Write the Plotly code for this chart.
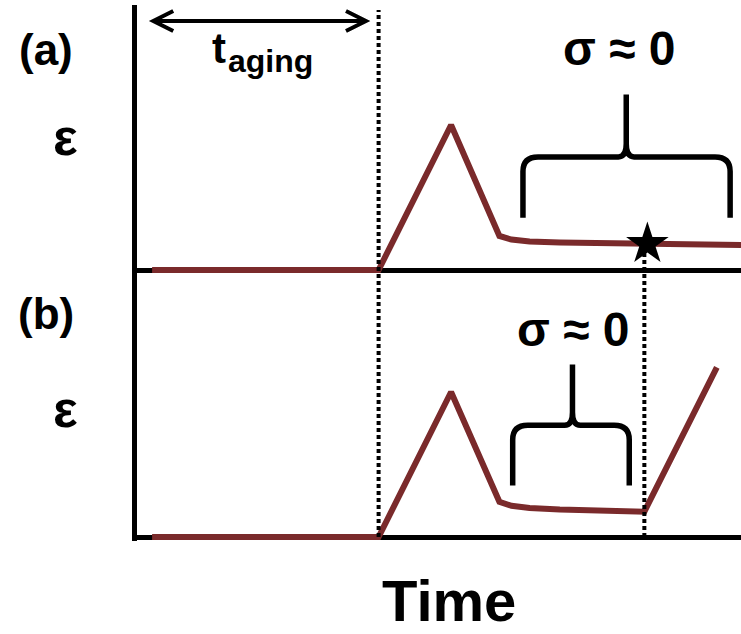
import plotly.graph_objects as go

# ---- data: strain vs. time for the two protocols ----
time_a = [0.25, 4.0, 5.2, 6.0, 6.2, 6.5, 7.0, 8.4, 10.0]
strain_a = [0.0, 0.0, 1.0, 0.235, 0.21, 0.197, 0.19, 0.18, 0.172]

time_b = [0.25, 4.0, 5.2, 6.0, 6.2, 6.5, 7.0, 8.4, 9.6]
strain_b = [0.0, 0.0, 1.0, 0.243, 0.215, 0.2, 0.19, 0.175, 1.17]

t_aging_end = 4.0
probe_time = [8.45]
probe_strain = [0.18]

panel_labels = ["(a)", "(b)"]
stress_label = "σ ≈ 0"

# ---- page geometry (pixels) ----
W, H = 741, 634
RED = "#7A2A2B"
FONT = "Liberation Sans, Arial, sans-serif"
Y_RANGE = [-0.03, 1.83]
K = 145.0  # pixels per strain unit


def px_x(p):
    return p / W


def px_y(p):
    return 1 - p / H


zero_a, zero_b = 270.0, 537.0
dom_a = [px_y(zero_a - Y_RANGE[0] * K), px_y(zero_a - Y_RANGE[1] * K)]
dom_b = [px_y(zero_b - Y_RANGE[0] * K), px_y(zero_b - Y_RANGE[1] * K)]


def paper_from(dom, v):
    return dom[0] + (v - Y_RANGE[0]) / (Y_RANGE[1] - Y_RANGE[0]) * (dom[1] - dom[0])


fig = go.Figure()

fig.add_trace(go.Scatter(x=time_a, y=strain_a, mode="lines", xaxis="x", yaxis="y",
                         line=dict(color=RED, width=6), hoverinfo="skip", showlegend=False))
fig.add_trace(go.Scatter(x=time_b, y=strain_b, mode="lines", xaxis="x2", yaxis="y2",
                         line=dict(color=RED, width=6), hoverinfo="skip", showlegend=False))
fig.add_trace(go.Scatter(x=probe_time, y=probe_strain, mode="markers", xaxis="x", yaxis="y",
                         marker=dict(symbol="star", size=32, color="black"),
                         cliponaxis=False, hoverinfo="skip", showlegend=False))

x_common = dict(range=[0, 10], domain=[137 / W, 1], showline=False, showgrid=False,
                zeroline=False, showticklabels=False, ticks="", fixedrange=True)
y_common = dict(range=Y_RANGE, showline=True, linewidth=5, linecolor="black",
                showgrid=False, zeroline=True, zerolinewidth=5, zerolinecolor="black",
                showticklabels=False, ticks="", layer="below traces", fixedrange=True)

fig.update_layout(
    width=W, height=H,
    margin=dict(l=0, r=0, t=0, b=0),
    paper_bgcolor="white", plot_bgcolor="rgba(0,0,0,0)",
    xaxis=dict(anchor="y", **x_common),
    xaxis2=dict(anchor="y2", matches="x", **x_common),
    yaxis=dict(anchor="x", domain=dom_a, **y_common),
    yaxis2=dict(anchor="x2", domain=dom_b, **y_common),
    font=dict(family=FONT, color="black"),
)


def brace(xl, xc, xr, yb, yh, yt, rx, ry, cx, cy):
    return (f"M {xl},{yb} L {xl},{yh - ry} Q {xl},{yh} {xl + rx},{yh} "
            f"L {xc - cx},{yh} Q {xc},{yh} {xc},{yh + cy} L {xc},{yt} "
            f"M {xc},{yh + cy} Q {xc},{yh} {xc + cx},{yh} "
            f"L {xr - rx},{yh} Q {xr},{yh} {xr},{yh - ry} L {xr},{yb}")


DOTTED = dict(color="black", width=4, dash="4px,3px")

shapes = []
# end of aging: dotted marker through both panels
shapes.append(dict(type="line", xref="x", yref="paper", x0=t_aging_end, x1=t_aging_end,
                   y0=paper_from(dom_b, 0), y1=px_y(10), line=DOTTED))
# probe time dotted marker
shapes.append(dict(type="line", xref="x", yref="paper", x0=8.4, x1=8.4,
                   y0=paper_from(dom_b, 0), y1=paper_from(dom_a, probe_strain[0]),
                   line=DOTTED))
# braces
shapes.append(dict(type="path", xref="x", yref="y",
                   path=brace(6.39, 8.10, 9.82, 0.36, 0.78, 1.21, 0.25, 0.10, 0.13, 0.09),
                   line=dict(color="black", width=5.5)))
shapes.append(dict(type="path", xref="x2", yref="y2",
                   path=brace(6.22, 7.21, 8.15, 0.356, 0.77, 1.19, 0.25, 0.10, 0.13, 0.09),
                   line=dict(color="black", width=5.5)))
# double-headed aging arrow
ax0, ax1, ay = 0.27, 3.79, 1.717
hx, hy = 0.33, 0.069
shapes.append(dict(type="path", xref="x", yref="y",
                   path=(f"M {ax0},{ay} L {ax1},{ay} "
                         f"M {ax0 + hx},{ay + hy} L {ax0},{ay} L {ax0 + hx},{ay - hy} "
                         f"M {ax1 - hx},{ay + hy} L {ax1},{ay} L {ax1 - hx},{ay - hy}"),
                   line=dict(color="black", width=4)))
fig.update_layout(shapes=shapes)


def label(text, x, y, size, xanchor="center"):
    return dict(text=text, x=px_x(x), y=px_y(y), xref="paper", yref="paper",
                xanchor=xanchor, yanchor="middle", showarrow=False,
                font=dict(family=FONT, size=size, color="black", weight="bold"))


annotations = [
    label(panel_labels[0], 46, 50, 44),
    label(panel_labels[1], 46, 313.5, 44),
    label("ε", 65.5, 137, 52),
    label("ε", 65.5, 409, 52),
    label("t", 218.5, 48.4, 42),
    label("aging", 226, 60.9, 32, xanchor="left"),
    label(stress_label, 619, 49, 48),
    label(stress_label, 573, 329.5, 48),
    label("Time", 449, 600.5, 58),
]
fig.update_layout(annotations=annotations)

fig.write_html("out.html")
